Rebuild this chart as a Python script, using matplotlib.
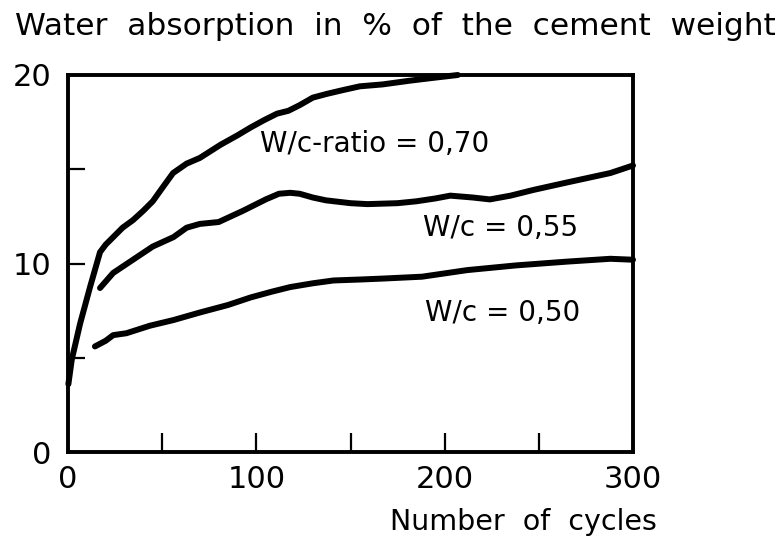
import matplotlib
matplotlib.use('Agg')
import matplotlib.pyplot as plt

# curves (cycles, water absorption %)
x_070 = [0.2, 2, 6.4, 11.7, 17, 20, 24, 29, 34.5, 40, 45, 50, 55.8, 63, 70, 81, 90, 96.7, 104, 111, 117, 123, 130, 137.5, 146, 155, 167, 181.6, 194, 207]
y_070 = [3.6, 4.9, 6.8, 8.75, 10.6, 11.0, 11.4, 11.9, 12.3, 12.8, 13.3, 14.0, 14.8, 15.3, 15.6, 16.3, 16.8, 17.2, 17.6, 17.95, 18.1, 18.4, 18.8, 19.0, 19.2, 19.4, 19.5, 19.7, 19.85, 20.0]

x_055 = [17, 24, 34.5, 45, 56, 63, 70, 80, 93, 105, 112, 118, 123, 130, 137, 150, 159, 175, 185, 195, 203, 215, 224, 235, 247, 265, 288, 300]
y_055 = [8.7, 9.5, 10.2, 10.9, 11.4, 11.9, 12.1, 12.2, 12.8, 13.4, 13.7, 13.75, 13.7, 13.5, 13.35, 13.2, 13.15, 13.2, 13.3, 13.45, 13.6, 13.5, 13.4, 13.6, 13.9, 14.3, 14.8, 15.2]

x_050 = [14.3, 20, 24, 31, 43.5, 56, 70, 85, 97, 108, 118, 130, 141, 155, 167, 188, 212, 238, 265, 288, 300]
y_050 = [5.6, 5.9, 6.2, 6.3, 6.7, 7.0, 7.4, 7.8, 8.2, 8.5, 8.75, 8.95, 9.1, 9.15, 9.2, 9.3, 9.65, 9.9, 10.1, 10.25, 10.2]

x_ticks = [0, 50, 100, 150, 200, 250, 300]
x_ticklabels = ['0', '', '100', '', '200', '', '300']
y_ticks = [0, 5, 10, 15, 20]
y_ticklabels = ['0', '', '10', '', '20']

plt.rcParams['font.family'] = ['DejaVu Sans']

fig = plt.figure(figsize=(7.83, 5.42), dpi=100)
ax = fig.add_axes([68/783, 90/542, 565/783, 377/542]) #box placed by pixels

lw = 4.3
for xs, ys in [(x_070, y_070), (x_055, y_055), (x_050, y_050)]:
    ax.plot(xs, ys, color='black', linewidth=lw, solid_capstyle='round', solid_joinstyle='round', clip_on=False)

ax.set_xlim(0, 300)
ax.set_ylim(0, 20)
ax.set_xticks(x_ticks)
ax.set_xticklabels(x_ticklabels)
ax.set_yticks(y_ticks)
ax.set_yticklabels(y_ticklabels)
ax.tick_params(axis='x', direction='in', length=14, width=1.6, pad=9, labelsize=22)
ax.tick_params(axis='y', direction='in', length=12, width=1.6, pad=12, labelsize=22)
for sp in ax.spines.values():
    sp.set_linewidth(2.8)

# curve labels
ax.text(102, 15.9, 'W/c-ratio = 0,70', fontsize=20, va='baseline', ha='left')
ax.text(188.5, 11.46, 'W/c = 0,55', fontsize=20, va='baseline', ha='left')
ax.text(189.6, 6.95, 'W/c = 0,50', fontsize=20, va='baseline', ha='left')

# axis titles
fig.text(15/783, 1 - 35/542, 'Water  absorption  in  %  of  the  cement  weight', fontsize=22.5, va='baseline', ha='left')
fig.text(657/783, 1 - 530/542, 'Number  of  cycles', fontsize=20.5, va='baseline', ha='right')

fig.savefig('out.png', dpi=100, facecolor='white')
